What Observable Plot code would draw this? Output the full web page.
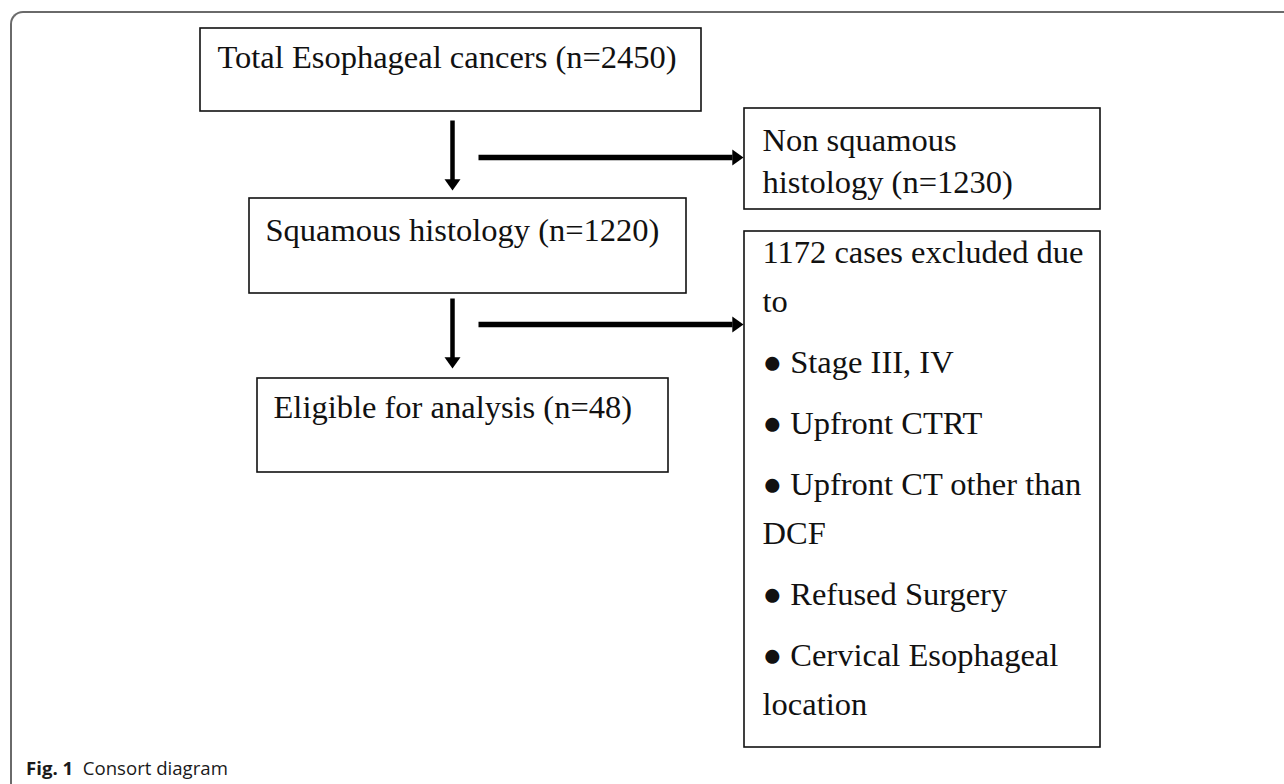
<!DOCTYPE html>
<html>
<head>
<meta charset="utf-8">
<script src="https://cdn.jsdelivr.net/npm/d3@7"></script>
<script src="https://cdn.jsdelivr.net/npm/@observablehq/plot@0.6"></script>
<style>
  html, body { margin: 0; padding: 0; background: #fff; }
  #wrap { position: relative; width: 1284px; height: 784px; overflow: hidden; }
  #frame { position: absolute; left: 10px; top: 11px; width: 1400px; height: 900px;
           border-top: 2px solid #6a6a6a; border-left: 2px solid #6a6a6a;
           border-top-left-radius: 13px; box-sizing: border-box; }
  #chart { position: absolute; left: 0; top: 0; }
  #caption { position: absolute; left: 26px; top: 755px; font-family: "Open Sans", sans-serif;
             font-size: 18.6px; color: #1a1a1a; white-space: pre; }
  #caption b { font-weight: 700; }
</style>
</head>
<body>
<div id="wrap">
  <div id="frame"></div>
  <div id="chart"></div>
  <div id="caption"><b>Fig. 1</b>  Consort diagram</div>
</div>
<script>
// ---------------- data ----------------
const flowStages = ["Total Esophageal cancers", "Squamous histology", "Eligible for analysis"];
const flowCounts = [2450, 1220, 48];
const excludedGroups = ["Non squamous histology", "cases excluded due to"];
const excludedCounts = [1230, 1172];
const exclusionReasons = ["Stage III, IV", "Upfront CTRT", "Upfront CT other than DCF", "Refused Surgery", "Cervical Esophageal location"];

// ---------------- layout (pixel geometry, kept apart from the data) ----------------
const W = 1284, H = 752;
const mainBoxes = [
  {x1: 200, x2: 701, y1: 28,  y2: 111},
  {x1: 249, x2: 686, y1: 198, y2: 293},
  {x1: 257, x2: 668, y1: 378, y2: 472}
];
const sideBoxes = [
  {x1: 744, x2: 1100, y1: 108, y2: 209},
  {x1: 744, x2: 1100, y1: 231, y2: 747}
];
const mainTextDx = [17, 16, 16];
const mainTextDy = [29, 32, 29];
const sideTextDx = 18;
const sideFirstDy = [32, 21];
const sideLineGap = [42, 49];
const paraGap = 61;
// words on the first line where the text wraps (null = single line)
const sideWrap = [2, 4];
const reasonWrap = [null, null, 4, null, 2];
const arrowX = 452, arrowX1 = 478, arrowX2 = 743;
const vArrows = [{y1: 120, y2: 190}, {y1: 298, y2: 368}];
const hArrowsY = [157, 324];

// ---------------- build tables ----------------
const wrap = (s, n) => {
  if (n == null) return [s];
  const w = s.split(" ");
  return [w.slice(0, n).join(" "), w.slice(n).join(" ")].filter(d => d.length);
};

const boxes = [...mainBoxes, ...sideBoxes];
const texts = [];
flowStages.forEach((s, i) => {
  const b = mainBoxes[i];
  texts.push({x: b.x1 + mainTextDx[i], y: b.y1 + mainTextDy[i], text: `${s} (n=${flowCounts[i]})`});
});
{
  const b = sideBoxes[0];
  wrap(`${excludedGroups[0]} (n=${excludedCounts[0]})`, sideWrap[0]).forEach((t, j) =>
    texts.push({x: b.x1 + sideTextDx, y: b.y1 + sideFirstDy[0] + j * sideLineGap[0], text: t}));
}
{
  const b = sideBoxes[1];
  let y = b.y1 + sideFirstDy[1];
  const paras = [wrap(`${excludedCounts[1]} ${excludedGroups[1]}`, sideWrap[1])]
    .concat(exclusionReasons.map((r, i) => wrap(`\u25CF ${r}`, reasonWrap[i] == null ? null : reasonWrap[i] + 1)));
  paras.forEach((lines, p) => {
    if (p > 0) y += paraGap;
    lines.forEach((t, j) => {
      if (j > 0) y += sideLineGap[1];
      texts.push({x: b.x1 + sideTextDx, y, text: t});
    });
  });
}
const shafts = [];
const heads = [];
vArrows.forEach(a => {
  shafts.push({x1: arrowX, y1: a.y1, x2: arrowX, y2: a.y2 - 10, w: 4.5});
  heads.push({x: arrowX, y: a.y2, rotate: 180});
});
hArrowsY.forEach(y => {
  shafts.push({x1: arrowX1, y1: y, x2: arrowX2 - 11, y2: y, w: 5.5});
  heads.push({x: arrowX2, y, rotate: 90});
});

// arrowhead symbol: tip at origin, pointing up before rotation
const arrowHead = {
  draw(ctx, size) {
    const r = Math.sqrt(size / Math.PI);
    ctx.moveTo(0, 0);
    ctx.lineTo(r, 1.4 * r);
    ctx.lineTo(-r, 1.4 * r);
    ctx.closePath();
  }
};

const chart = Plot.plot({
  width: W, height: H,
  margin: 0,
  x: {domain: [0, W], range: [0, W], axis: null},
  y: {domain: [0, H], range: [0, H], axis: null},
  style: {background: "transparent"},
  marks: [
    Plot.rect(boxes, {x1: "x1", x2: "x2", y1: "y1", y2: "y2", fill: "white", stroke: "#111", strokeWidth: 1.6}),
    Plot.link(shafts, {x1: "x1", y1: "y1", x2: "x2", y2: "y2", stroke: "black", strokeWidth: d => d.w}),
    Plot.dot(heads, {x: "x", y: "y", rotate: "rotate", symbol: arrowHead, r: 8, fill: "black", stroke: null}),
    Plot.text(texts, {x: "x", y: "y", text: "text", textAnchor: "start", lineAnchor: "middle",
      fontFamily: "Liberation Serif", fontSize: 32.5, fill: "#111"})
  ]
});
document.getElementById("chart").appendChild(chart);
</script>
</body>
</html>
